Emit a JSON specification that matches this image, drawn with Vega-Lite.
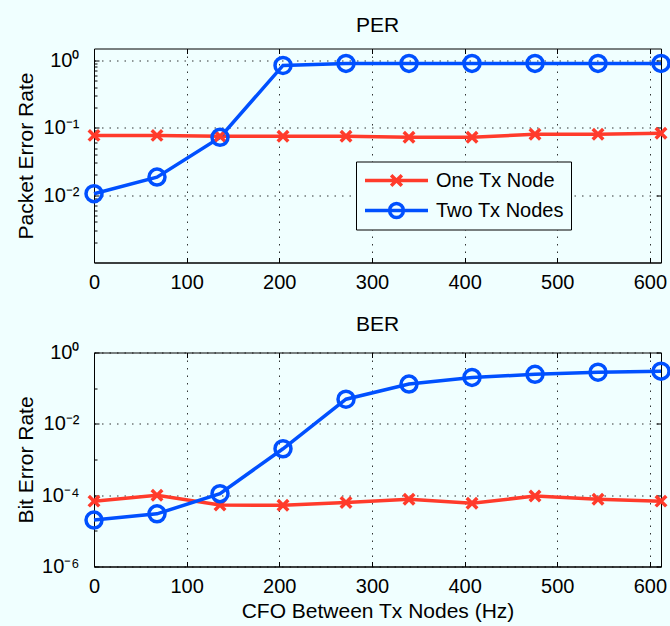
{
  "$schema": "https://vega.github.io/schema/vega-lite/v6.json",
  "background": "#f0ffff",
  "padding": {"left": 14, "top": 14.5, "right": 8, "bottom": 4},
  "config": {
    "font": "Liberation Sans",
    "view": {"stroke": "black", "strokeWidth": 1, "fill": "#f0ffff"},
    "axis": {
      "domainColor": "black", "tickColor": "black", "labelColor": "black", "titleColor": "black",
      "labelFontSize": 20, "titleFontSize": 21, "titleFontWeight": "normal",
      "gridColor": "black", "gridDash": [1.5, 6], "gridOpacity": 0.8, "gridWidth": 1,
      "tickSize": -5, "labelPadding": 15, "labelFlush": false, "labelOverlap": false
    },
    "title": {"fontSize": 21, "fontWeight": "normal", "color": "black", "offset": 12},
    "legend": {"labelFontSize": 20, "labelColor": "black"}
  },
  "datasets": {
    "d": [
      {"cfo": 0, "series": "One Tx Node", "per": 0.077, "ber": 6.8e-5},
      {"cfo": 68, "series": "One Tx Node", "per": 0.077, "ber": 1.0e-4},
      {"cfo": 136, "series": "One Tx Node", "per": 0.075, "ber": 5.3e-5},
      {"cfo": 204, "series": "One Tx Node", "per": 0.075, "ber": 5.2e-5},
      {"cfo": 272, "series": "One Tx Node", "per": 0.075, "ber": 6.2e-5},
      {"cfo": 340, "series": "One Tx Node", "per": 0.072, "ber": 7.7e-5},
      {"cfo": 408, "series": "One Tx Node", "per": 0.072, "ber": 5.9e-5},
      {"cfo": 476, "series": "One Tx Node", "per": 0.08, "ber": 9.5e-5},
      {"cfo": 544, "series": "One Tx Node", "per": 0.08, "ber": 7.7e-5},
      {"cfo": 612, "series": "One Tx Node", "per": 0.083, "ber": 6.8e-5},
      {"cfo": 0, "series": "Two Tx Nodes", "per": 0.0105, "ber": 2.0e-5},
      {"cfo": 68, "series": "Two Tx Nodes", "per": 0.0185, "ber": 3.0e-5},
      {"cfo": 136, "series": "Two Tx Nodes", "per": 0.072, "ber": 1.1e-4},
      {"cfo": 204, "series": "Two Tx Nodes", "per": 0.84, "ber": 2.0e-3},
      {"cfo": 272, "series": "Two Tx Nodes", "per": 0.9, "ber": 0.049},
      {"cfo": 340, "series": "Two Tx Nodes", "per": 0.9, "ber": 0.13},
      {"cfo": 408, "series": "Two Tx Nodes", "per": 0.9, "ber": 0.2},
      {"cfo": 476, "series": "Two Tx Nodes", "per": 0.9, "ber": 0.245},
      {"cfo": 544, "series": "Two Tx Nodes", "per": 0.9, "ber": 0.28},
      {"cfo": 612, "series": "Two Tx Nodes", "per": 0.9, "ber": 0.3}
    ]
  },
  "spacing": 19,
  "resolve": {
    "scale": {"color": "independent", "shape": "independent"},
    "legend": {"color": "independent", "shape": "independent"}
  },
  "vconcat": [
    {
      "title": "PER",
      "width": 567,
      "height": 214,
      "data": {"name": "d"},
      "resolve": {"axis": {"x": "independent", "y": "independent"}},
      "layer": [
        {
          "mark": {"type": "point", "filled": false, "strokeWidth": 3.5, "opacity": 0},
          "encoding": {
            "x": {"field": "cfo", "type": "quantitative", "axis": null},
            "y": {"field": "per", "type": "quantitative", "axis": null},
            "color": {"field": "series", "type": "nominal", "scale": {"domain": ["One Tx Node", "Two Tx Nodes"], "range": ["#ff3b2b", "#0050ff"]},
                      "legend": {"orient": "none", "legendX": 262, "legendY": 113, "title": null, "symbolSize": 3969, "clipHeight": 24, "symbolOpacity": 1,
                                 "strokeColor": "black", "fillColor": "#f0ffff", "padding": 7, "symbolStrokeWidth": 3.5, "labelOffset": 6, "rowPadding": 6, "labelFontSize": 20}},
            "shape": {"field": "series", "type": "nominal",
                      "scale": {"domain": ["One Tx Node", "Two Tx Nodes"],
                                "range": ["M-1,0H1M-0.17,-0.17L0.17,0.17M-0.17,0.17L0.17,-0.17", "M-1,0H1M0.22,0A0.22,0.22,0,1,1,-0.22,0A0.22,0.22,0,1,1,0.22,0"]},
                      "legend": {"orient": "none", "legendX": 262, "legendY": 113, "title": null, "symbolSize": 3969, "clipHeight": 24, "symbolOpacity": 1,
                                 "strokeColor": "black", "fillColor": "#f0ffff", "padding": 7, "symbolStrokeWidth": 3.5, "labelOffset": 6, "rowPadding": 6, "labelFontSize": 20}}
          }
        },
        {
          "transform": [{"filter": "datum.series == 'One Tx Node'"}],
          "mark": {"type": "line", "strokeWidth": 3.5, "color": "#ff3b2b"},
          "encoding": {
            "x": {"field": "cfo", "type": "quantitative", "scale": {"domain": [0, 612], "nice": false, "zero": false},
                  "axis": {"values": [0, 100, 200, 300, 400, 500, 600], "title": null, "grid": true}},
            "y": {"field": "per", "type": "quantitative", "scale": {"type": "log", "domain": [0.001, 1.5], "nice": false},
                  "axis": {"values": [0.01, 0.1, 1], "title": "Packet Error Rate", "grid": true, "minExtent": 52, "maxExtent": 52, "titlePadding": 6, "labelPadding": 20,
                           "labelExpr": "datum.value > 0.5 ? '10⁰' : datum.value > 0.05 ? '10⁻¹' : '10⁻²'"}}
          }
        },
        {
          "transform": [{"filter": "datum.series == 'Two Tx Nodes'"}],
          "mark": {"type": "line", "strokeWidth": 3.5, "color": "#0050ff"},
          "encoding": {
            "x": {"field": "cfo", "type": "quantitative", "axis": null},
            "y": {"field": "per", "type": "quantitative", "axis": null}
          }
        },
        {
          "transform": [{"filter": "datum.series == 'One Tx Node'"}],
          "mark": {"type": "point", "shape": "M-1,-1L1,1M-1,1L1,-1", "filled": false, "strokeWidth": 3.5, "size": 110, "opacity": 1, "color": "#ff3b2b"},
          "encoding": {
            "x": {"field": "cfo", "type": "quantitative", "axis": null},
            "y": {"field": "per", "type": "quantitative", "axis": null}
          }
        },
        {
          "transform": [{"filter": "datum.series == 'Two Tx Nodes'"}],
          "mark": {"type": "point", "shape": "circle", "filled": false, "strokeWidth": 3.5, "size": 256, "opacity": 1, "color": "#0050ff"},
          "encoding": {
            "x": {"field": "cfo", "type": "quantitative", "axis": null},
            "y": {"field": "per", "type": "quantitative", "axis": null}
          }
        },
        {
          "mark": {"type": "point", "opacity": 0},
          "encoding": {
            "x": {"field": "cfo", "type": "quantitative",
                  "axis": {"orient": "top", "values": [0, 100, 200, 300, 400, 500, 600], "labels": false, "grid": false, "domain": false, "title": null}},
            "y": {"field": "per", "type": "quantitative",
                  "axis": {"orient": "right", "values": [0.01, 0.1, 1], "labels": false, "grid": false, "domain": false, "title": null}}
          }
        },
        {
          "mark": {"type": "point", "opacity": 0},
          "encoding": {
            "x": {"field": "cfo", "type": "quantitative", "axis": null},
            "y": {"field": "per", "type": "quantitative",
                  "axis": {"orient": "left", "values": [0.002, 0.003, 0.004, 0.005, 0.006, 0.007, 0.008, 0.009, 0.02, 0.03, 0.04, 0.05, 0.06, 0.07, 0.08, 0.09, 0.2, 0.3, 0.4, 0.5, 0.6, 0.7, 0.8, 0.9],
                           "labels": false, "grid": false, "domain": false, "title": null, "tickSize": -3}}
          }
        }
      ]
    },
    {
      "title": {"text": "BER", "offset": 8},
      "width": 567,
      "height": 214,
      "data": {"name": "d"},
      "resolve": {"axis": {"x": "independent", "y": "independent"}},
      "layer": [
        {
          "transform": [{"filter": "datum.series == 'One Tx Node'"}],
          "mark": {"type": "line", "strokeWidth": 3.5, "color": "#ff3b2b"},
          "encoding": {
            "x": {"field": "cfo", "type": "quantitative", "scale": {"domain": [0, 612], "nice": false, "zero": false},
                  "axis": {"values": [0, 100, 200, 300, 400, 500, 600], "title": "CFO Between Tx Nodes (Hz)", "grid": true, "titlePadding": 4}},
            "y": {"field": "ber", "type": "quantitative", "scale": {"type": "log", "domain": [1e-6, 1], "nice": false},
                  "axis": {"values": [1e-6, 1e-4, 1e-2, 1], "title": "Bit Error Rate", "grid": true, "minExtent": 52, "maxExtent": 52, "titlePadding": 6, "labelPadding": 20,
                           "labelExpr": "datum.value > 0.5 ? '10⁰' : datum.value > 0.005 ? '10⁻²' : datum.value > 0.00005 ? '10⁻⁴' : '10⁻⁶'"}}
          }
        },
        {
          "transform": [{"filter": "datum.series == 'Two Tx Nodes'"}],
          "mark": {"type": "line", "strokeWidth": 3.5, "color": "#0050ff"},
          "encoding": {
            "x": {"field": "cfo", "type": "quantitative", "axis": null},
            "y": {"field": "ber", "type": "quantitative", "axis": null}
          }
        },
        {
          "transform": [{"filter": "datum.series == 'One Tx Node'"}],
          "mark": {"type": "point", "shape": "M-1,-1L1,1M-1,1L1,-1", "filled": false, "strokeWidth": 3.5, "size": 110, "opacity": 1, "color": "#ff3b2b"},
          "encoding": {
            "x": {"field": "cfo", "type": "quantitative", "axis": null},
            "y": {"field": "ber", "type": "quantitative", "axis": null}
          }
        },
        {
          "transform": [{"filter": "datum.series == 'Two Tx Nodes'"}],
          "mark": {"type": "point", "shape": "circle", "filled": false, "strokeWidth": 3.5, "size": 256, "opacity": 1, "color": "#0050ff"},
          "encoding": {
            "x": {"field": "cfo", "type": "quantitative", "axis": null},
            "y": {"field": "ber", "type": "quantitative", "axis": null}
          }
        },
        {
          "mark": {"type": "point", "opacity": 0},
          "encoding": {
            "x": {"field": "cfo", "type": "quantitative",
                  "axis": {"orient": "top", "values": [0, 100, 200, 300, 400, 500, 600], "labels": false, "grid": false, "domain": false, "title": null}},
            "y": {"field": "ber", "type": "quantitative",
                  "axis": {"orient": "right", "values": [1e-6, 1e-4, 1e-2, 1], "labels": false, "grid": false, "domain": false, "title": null}}
          }
        },
        {
          "mark": {"type": "point", "opacity": 0},
          "encoding": {
            "x": {"field": "cfo", "type": "quantitative", "axis": null},
            "y": {"field": "ber", "type": "quantitative",
                  "axis": {"orient": "left", "values": [1e-5, 1e-3, 1e-1], "labels": false, "grid": false, "domain": false, "title": null, "tickSize": -3}}
          }
        }
      ]
    }
  ]
}
